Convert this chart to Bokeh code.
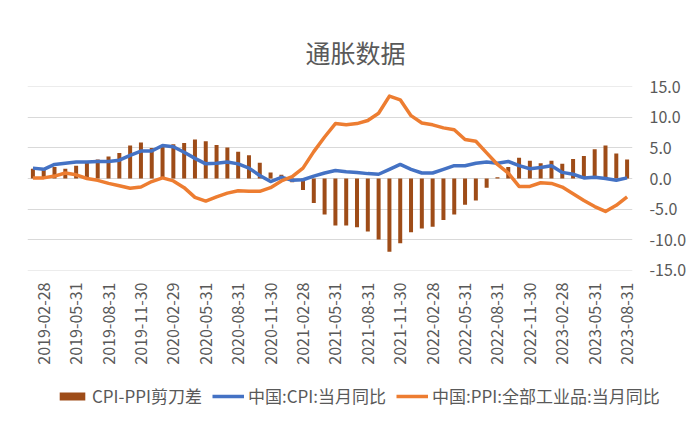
from math import pi
from bokeh.plotting import figure
from bokeh.layouts import column, row
from bokeh.models import (Range1d, FixedTicker, PrintfTickFormatter, Legend,
                          LegendItem, ColumnDataSource)
from bokeh.embed import file_html
from bokeh.resources import INLINE

# ---- data (monthly, 2019-01 .. 2023-08) ----
cpi = [1.7, 1.5, 2.3, 2.5, 2.7, 2.7, 2.8, 2.8, 3.0, 3.8, 4.5, 4.5,
       5.4, 5.2, 4.3, 3.3, 2.4, 2.5, 2.7, 2.4, 1.7, 0.5, -0.5, 0.2,
       -0.3, -0.2, 0.4, 0.9, 1.3, 1.1, 1.0, 0.8, 0.7, 1.5, 2.3, 1.5,
       0.9, 0.9, 1.5, 2.1, 2.1, 2.5, 2.7, 2.5, 2.8, 2.1, 1.6, 1.8,
       2.1, 1.0, 0.7, 0.1, 0.2, 0.0, -0.3, 0.1]
ppi = [0.1, 0.1, 0.4, 0.9, 0.6, 0.0, -0.3, -0.8, -1.2, -1.6, -1.4, -0.5,
       0.1, -0.4, -1.5, -3.1, -3.7, -3.0, -2.4, -2.0, -2.1, -2.1, -1.5, -0.4,
       0.3, 1.7, 4.4, 6.8, 9.0, 8.8, 9.0, 9.5, 10.7, 13.5, 12.9, 10.3,
       9.1, 8.8, 8.3, 8.0, 6.4, 6.1, 4.2, 2.3, 0.9, -1.3, -1.3, -0.7,
       -0.8, -1.4, -2.5, -3.6, -4.6, -5.4, -4.4, -3.0]
gap = [1.6, 1.4, 1.9, 1.6, 2.1, 2.7, 3.1, 3.6, 4.2, 5.4, 5.9, 5.0,
       5.3, 5.6, 5.8, 6.4, 6.1, 5.5, 5.1, 4.4, 3.8, 2.6, 1.0, 0.6,
       -0.6, -1.9, -4.0, -5.9, -7.7, -7.7, -8.0, -8.7, -10.0, -12.0, -10.6, -8.8,
       -8.2, -7.9, -6.8, -5.9, -4.3, -3.6, -1.5, 0.2, 1.9, 3.4, 2.9, 2.5,
       2.9, 2.4, 3.2, 3.7, 4.8, 5.4, 4.1, 3.1]
tick_labels = ["2019-02-28", "2019-05-31", "2019-08-31", "2019-11-30",
               "2020-02-29", "2020-05-31", "2020-08-31", "2020-11-30",
               "2021-02-28", "2021-05-31", "2021-08-31", "2021-11-30",
               "2022-02-28", "2022-05-31", "2022-08-31", "2022-11-30",
               "2023-02-28", "2023-05-31", "2023-08-31"]
y_ticks = [-15, -10, -5, 0, 5, 10, 15]
title_text = "通胀数据"
names = ["CPI-PPI剪刀差", "中国:CPI:当月同比", "中国:PPI:全部工业品:当月同比"]

FONT = "Noto Sans CJK SC"
GRAY = "#595959"
BROWN = "#9E4C18"
BLUE = "#4472C4"
ORANGE = "#ED7D31"

n = len(cpi)
xs = list(range(n))
tick_pos = [1 + 3 * i for i in range(len(tick_labels))]
src = ColumnDataSource(dict(x=xs, cpi=cpi, ppi=ppi, gap=gap))

W = 692
p = figure(width=W, height=375, output_backend="svg", toolbar_location=None,
           x_range=Range1d(-0.5, n - 0.5), y_range=Range1d(-15.08, 15.08),
           y_axis_location="right", min_border_left=27, min_border_right=W - 632,
           min_border_top=86, min_border_bottom=105)
p.outline_line_color = None

p.title.text = title_text
p.title.text_font = FONT
p.title.text_font_size = "25px"
p.title.text_font_style = "normal"
p.title.text_color = GRAY
p.title.align = "left"
p.title.offset = 278
p.title.standoff = 34

r_bar = p.vbar(x="x", top="gap", bottom=0, width=0.37, source=src,
               fill_color=BROWN, line_color=None)
r_cpi = p.line(x="x", y="cpi", source=src, line_color=BLUE, line_width=3.5,
               line_join="round")
r_ppi = p.line(x="x", y="ppi", source=src, line_color=ORANGE, line_width=3.5,
               line_join="round")

p.xgrid.grid_line_color = None
p.ygrid.grid_line_color = "#D9D9D9"
p.ygrid.grid_line_width = 1

xa = p.xaxis[0]
xa.ticker = FixedTicker(ticks=tick_pos)
xa.major_label_overrides = {pos: lab for pos, lab in zip(tick_pos, tick_labels)}
xa.major_label_orientation = pi / 2
xa.axis_line_color = None
xa.major_tick_line_color = None
xa.minor_tick_line_color = None
xa.major_tick_out = 0
xa.major_label_text_font = FONT
xa.major_label_text_font_size = "16px"
xa.major_label_text_color = GRAY
xa.major_label_standoff = 12

ya = p.yaxis[0]
ya.ticker = FixedTicker(ticks=y_ticks)
ya.formatter = PrintfTickFormatter(format="%.1f")
ya.axis_line_color = None
ya.major_tick_line_color = None
ya.minor_tick_line_color = None
ya.major_tick_out = 0
ya.major_label_text_font = FONT
ya.major_label_text_font_size = "16px"
ya.major_label_text_color = GRAY
ya.major_label_standoff = 17

# ---- legend strip (separate figure so it is not clipped) ----
lg = figure(width=W, height=40, output_backend="svg", toolbar_location=None,
            x_axis_type=None, y_axis_type=None,
            x_range=Range1d(0, 1), y_range=Range1d(0, 1),
            min_border_left=56, min_border_right=0, min_border_top=0,
            min_border_bottom=0)
lg.outline_line_color = None
lg.xgrid.grid_line_color = None
lg.ygrid.grid_line_color = None
# legend-only renderers: their points lie outside the visible range
dummy = ColumnDataSource(dict(x=[-5, -4], y=[-5, -5], top=[-5, -5]))
l_bar = lg.vbar(x="x", top="top", width=0.5, source=dummy,
                fill_color=BROWN, line_color=None)
l_cpi = lg.line(x="x", y="y", source=dummy, line_color=BLUE, line_width=3.5)
l_ppi = lg.line(x="x", y="y", source=dummy, line_color=ORANGE, line_width=3.5)

legend = Legend(items=[LegendItem(label=names[0], renderers=[l_bar]),
                       LegendItem(label=names[1], renderers=[l_cpi]),
                       LegendItem(label=names[2], renderers=[l_ppi])],
                orientation="horizontal", location=(0, 7))
legend.label_text_font = FONT
legend.label_text_font_size = "17px"
legend.label_text_color = GRAY
legend.glyph_width = 32
legend.glyph_height = 10
legend.label_standoff = 4
legend.spacing = 10
legend.padding = 0
legend.margin = 0
legend.border_line_color = None
legend.background_fill_alpha = 0
lg.add_layout(legend, "center")

layout = column(p, row(lg), spacing=0)
open("out.html", "w").write(file_html(layout, INLINE))
